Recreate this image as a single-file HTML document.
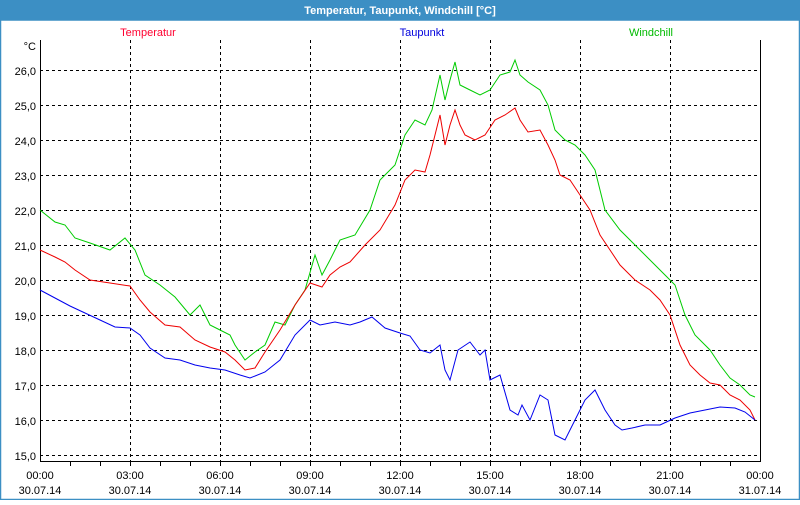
<!DOCTYPE html>
<html><head><meta charset="utf-8"><style>
body{margin:0;width:800px;height:500px;overflow:hidden;background:#fff;font-family:"Liberation Sans",sans-serif}
</style></head><body>
<svg width="800" height="500" xmlns="http://www.w3.org/2000/svg" font-family="Liberation Sans, sans-serif" font-size="11">
<rect x="0" y="0" width="800" height="500" fill="#fff"/>
<rect x="0" y="0" width="800" height="20" fill="#3c8fc4"/>
<rect x="0.5" y="20" width="799" height="479.5" fill="none" stroke="#3c8fc4" stroke-width="1.5"/>
<text x="400" y="14" fill="#fff" font-weight="bold" text-anchor="middle">Temperatur, Taupunkt, Windchill [°C]</text>
<text x="148" y="36" fill="#ff0030" text-anchor="middle">Temperatur</text>
<text x="422" y="36" fill="#0000dd" text-anchor="middle">Taupunkt</text>
<text x="651" y="36" fill="#00bb00" text-anchor="middle">Windchill</text>
<g stroke="#000" stroke-width="1" stroke-dasharray="3,3" fill="none">
<path d="M40 70.5H760M40 105.5H760M40 140.5H760M40 175.5H760M40 210.5H760M40 245.5H760M40 280.5H760M40 315.5H760M40 350.5H760M40 385.5H760M40 420.5H760M40 455.5H760"/>
<path d="M130.5 40V461M220.5 40V461M310.5 40V461M400.5 40V461M490.5 40V461M580.5 40V461M670.5 40V461"/>
</g>
<g stroke="#000" stroke-width="1" fill="none">
<path d="M40.5 40V461.5H760.5V40"/>
<path d="M70.5 461V466M100.5 461V466M130.5 461V466M160.5 461V466M190.5 461V466M220.5 461V466M250.5 461V466M280.5 461V466M310.5 461V466M340.5 461V466M370.5 461V466M400.5 461V466M430.5 461V466M460.5 461V466M490.5 461V466M520.5 461V466M550.5 461V466M580.5 461V466M610.5 461V466M640.5 461V466M670.5 461V466M700.5 461V466M730.5 461V466"/>
</g>
<g fill="#000" text-anchor="end">
<text x="36" y="50">°C</text>
<text x="36" y="75">26,0</text><text x="36" y="110">25,0</text><text x="36" y="145">24,0</text><text x="36" y="180">23,0</text><text x="36" y="215">22,0</text><text x="36" y="250">21,0</text><text x="36" y="285">20,0</text><text x="36" y="320">19,0</text><text x="36" y="355">18,0</text><text x="36" y="390">17,0</text><text x="36" y="425">16,0</text><text x="36" y="460">15,0</text>
</g>
<g fill="#000" text-anchor="middle">
<text x="40" y="479">00:00</text><text x="40" y="494">30.07.14</text>
<text x="130" y="479">03:00</text><text x="130" y="494">30.07.14</text>
<text x="220" y="479">06:00</text><text x="220" y="494">30.07.14</text>
<text x="310" y="479">09:00</text><text x="310" y="494">30.07.14</text>
<text x="400" y="479">12:00</text><text x="400" y="494">30.07.14</text>
<text x="490" y="479">15:00</text><text x="490" y="494">30.07.14</text>
<text x="580" y="479">18:00</text><text x="580" y="494">30.07.14</text>
<text x="670" y="479">21:00</text><text x="670" y="494">30.07.14</text>
<text x="760" y="479">00:00</text><text x="760" y="494">31.07.14</text>
</g>
<g fill="none" stroke-width="1">
<polyline stroke="#00cc00" points="40,210 55,222 65,225 75,238 90,243 110,250 125,238 135,250 145,275 160,285 175,297 190,315 200,305 210,325 220,330 230,335 235,345 245,360 255,352 265,345 275,322 285,325 295,305 305,290 315,255 322,275 330,260 340,240 355,235 370,210 380,180 395,165 405,135 415,120 425,125 432,110 440,75 445,100 450,80 455,62 460,85 470,90 480,95 490,90 500,75 510,72 515,60 520,75 528,82 540,90 548,105 555,130 565,140 575,145 585,155 595,170 605,210 620,230 635,245 650,260 665,275 675,285 685,315 695,335 710,350 720,365 730,378 740,385 750,395 755,397"/>
<polyline stroke="#ee0000" points="40,250 55,257 65,262 75,270 90,280 110,283 130,286 140,300 150,312 165,325 180,327 195,340 210,347 225,352 235,360 245,370 255,368 265,352 280,330 295,305 310,283 322,287 330,275 340,267 350,262 365,245 380,230 395,205 405,180 415,170 425,172 430,155 435,135 440,115 445,145 450,125 455,110 460,125 465,135 475,140 485,135 495,120 505,115 515,108 520,120 528,132 540,130 548,145 555,160 560,175 570,180 580,195 590,210 600,235 610,250 620,265 635,280 650,290 660,300 670,315 680,345 690,365 700,375 710,383 720,385 730,395 740,400 750,410 755,420"/>
<polyline stroke="#0000ee" points="40,290 55,298 70,306 85,313 100,320 115,327 130,328 140,335 150,348 165,358 180,360 195,365 210,368 225,370 240,375 250,378 265,372 280,360 295,335 310,320 320,325 335,322 350,325 360,322 372,317 385,328 400,333 410,336 420,350 430,353 440,345 445,370 450,380 458,350 470,342 480,355 485,350 490,380 500,375 510,410 518,415 522,405 530,420 540,395 548,400 555,435 565,440 575,420 585,400 595,390 605,410 615,425 622,430 632,428 645,425 660,425 675,418 690,413 705,410 720,407 735,408 745,412 755,420"/>
</g>
</svg>
</body></html>
